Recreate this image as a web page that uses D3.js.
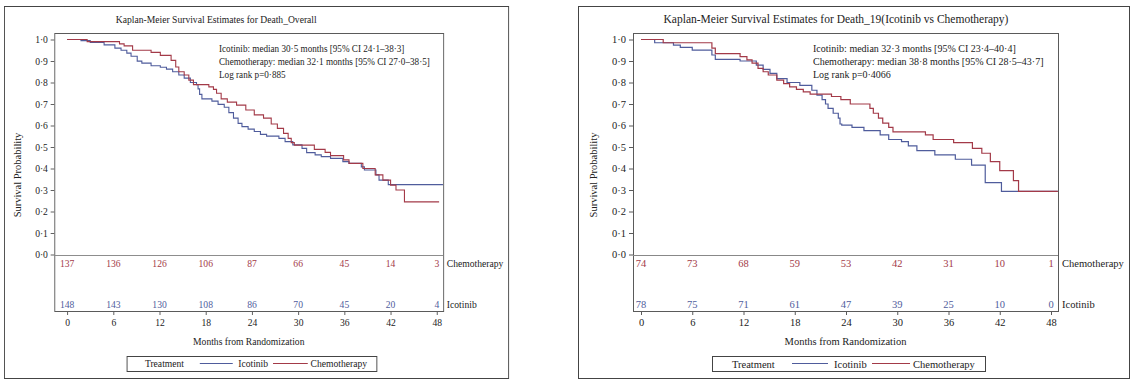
<!DOCTYPE html>
<html>
<head>
<meta charset="utf-8">
<script src="https://cdn.jsdelivr.net/npm/d3@7"></script>
<style>
  html, body { margin: 0; padding: 0; background: #fff; }
  svg { display: block; }
  text { font-family: "Liberation Serif", "Times New Roman", serif; fill: #222; }
</style>
</head>
<body>
<svg id="chart" width="1133" height="389"></svg>
<script>
// ---------------- DATA ----------------
const timeTicks = [0, 6, 12, 18, 24, 30, 36, 42, 48];
const survTicks = [0, 0.1, 0.2, 0.3, 0.4, 0.5, 0.6, 0.7, 0.8, 0.9, 1.0];
const groups = ["Icotinib", "Chemotherapy"];

// Panel 1: Death_Overall
const overallTitle = "Kaplan-Meier Survival Estimates for Death_Overall";
const overallNotes = [
  "Icotinib: median 30·5 months [95% CI 24·1–38·3]",
  "Chemotherapy: median 32·1 months [95% CI 27·0–38·5]",
  "Log rank p=0·885"
];
const overallIcoTime = [0, 1.8, 3.0, 4.8, 6.2, 7.0, 7.75, 8.3, 9.1, 9.7, 10.9, 12.1, 12.9, 13.7, 14.5, 15.2, 16.0, 16.8, 17.0, 17.2, 17.5, 18.8, 19.6, 20.4, 21.0, 21.6, 22.2, 22.7, 23.5, 24.3, 25.1, 25.9, 27.5, 28.3, 29.3, 30.5, 31.1, 32.2, 33.0, 34.2, 35.8, 36.6, 38.2, 38.6, 40.1, 40.5, 41.7, 48.8];
const overallIcoSurv = [1.0, 0.995, 0.987, 0.975, 0.96, 0.95, 0.937, 0.922, 0.899, 0.89, 0.878, 0.871, 0.862, 0.85, 0.835, 0.82, 0.80, 0.79, 0.77, 0.745, 0.724, 0.713, 0.698, 0.685, 0.66, 0.634, 0.61, 0.595, 0.583, 0.572, 0.559, 0.551, 0.54, 0.525, 0.51, 0.494, 0.474, 0.463, 0.455, 0.447, 0.432, 0.424, 0.408, 0.393, 0.37, 0.346, 0.325, 0.325];
const overallChemoTime = [0, 2.6, 6.8, 7.4, 8.5, 10.9, 12.1, 13.5, 14.1, 14.5, 15.2, 15.8, 16.4, 18.4, 19.0, 19.4, 20.0, 20.8, 22.0, 23.2, 24.3, 25.5, 26.5, 27.3, 28.1, 28.7, 29.1, 29.5, 32.1, 33.5, 34.2, 35.9, 36.6, 38.4, 40.0, 41.0, 42.0, 42.7, 43.8, 48.3];
const overallChemoSurv = [1.0, 0.99, 0.98, 0.97, 0.95, 0.94, 0.926, 0.903, 0.872, 0.85, 0.835, 0.811, 0.79, 0.78, 0.768, 0.75, 0.724, 0.709, 0.695, 0.672, 0.649, 0.634, 0.607, 0.587, 0.563, 0.54, 0.52, 0.509, 0.489, 0.475, 0.46, 0.44, 0.424, 0.40, 0.37, 0.346, 0.323, 0.30, 0.245, 0.245];
const overallRiskChemo = [137, 136, 126, 106, 87, 66, 45, 14, 3];
const overallRiskIco = [148, 143, 130, 108, 86, 70, 45, 20, 4];

// Panel 2: Death_19
const del19Title = "Kaplan-Meier Survival Estimates for Death_19(Icotinib vs Chemotherapy)";
const del19Notes = [
  "Icotinib: median 32·3 months [95% CI 23·4–40·4]",
  "Chemotherapy: median 38·8 months [95% CI 28·5–43·7]",
  "Log rank p=0·4066"
];
const del19IcoTime = [0, 1.6, 3.8, 4.6, 6.0, 8.3, 8.7, 11.6, 13.5, 14.3, 15.1, 15.9, 17.1, 18.6, 20.0, 20.6, 21.2, 21.6, 21.9, 22.5, 23.1, 23.3, 23.5, 24.7, 26.1, 28.0, 29.0, 30.5, 31.3, 32.3, 34.4, 36.8, 38.7, 40.3, 42.2, 48.8];
const del19IcoSurv = [1.0, 0.985, 0.974, 0.963, 0.951, 0.928, 0.908, 0.90, 0.881, 0.861, 0.842, 0.818, 0.80, 0.787, 0.764, 0.741, 0.72, 0.70, 0.68, 0.657, 0.634, 0.607, 0.602, 0.591, 0.576, 0.556, 0.535, 0.525, 0.505, 0.483, 0.463, 0.443, 0.416, 0.334, 0.294, 0.294];
const del19ChemoTime = [0, 2.6, 8.3, 8.7, 11.6, 12.4, 13.0, 13.7, 14.3, 14.9, 15.9, 16.7, 17.4, 18.2, 19.0, 19.8, 22.3, 23.4, 24.5, 26.8, 27.2, 27.8, 28.3, 29.0, 29.5, 33.3, 34.2, 36.6, 38.8, 39.9, 40.9, 42.0, 43.6, 44.2, 48.8];
const del19ChemoSurv = [1.0, 0.985, 0.96, 0.934, 0.92, 0.905, 0.89, 0.866, 0.85, 0.835, 0.811, 0.795, 0.78, 0.768, 0.756, 0.746, 0.735, 0.72, 0.70, 0.68, 0.657, 0.634, 0.611, 0.591, 0.57, 0.556, 0.535, 0.52, 0.494, 0.471, 0.432, 0.39, 0.344, 0.294, 0.294];
const del19RiskChemo = [74, 73, 68, 59, 53, 42, 31, 10, 1];
const del19RiskIco = [78, 75, 71, 61, 47, 39, 25, 10, 0];

// ---------------- STYLE / LAYOUT ----------------
const COL_ICO = "#4f5c9c";
const COL_CHEMO = "#a33a48";
const COL_FRAME = "#5a5a5a";
const FONT = 10.5;

// panel-local layout (each panel is one exported figure; the left one is narrower)
const L = { bw: 551, fl: 55, fr: 480, x48: 473, top: 33, bottom: 311 };

const panels = [
  { tx: 4, sx: 0.915, x0: 69, titleX: 232, titleSize: 10.5,
    title: overallTitle, notes: overallNotes,
    ico: [overallIcoTime, overallIcoSurv], chemo: [overallChemoTime, overallChemoSurv],
    riskChemo: overallRiskChemo, riskIco: overallRiskIco },
  { tx: 578, sx: 1, x0: 63, titleX: 258, titleSize: 11.5,
    title: del19Title, notes: del19Notes,
    ico: [del19IcoTime, del19IcoSurv], chemo: [del19ChemoTime, del19ChemoSurv],
    riskChemo: del19RiskChemo, riskIco: del19RiskIco }
];

const svg = d3.select("#chart");
svg.append("rect").attr("width", 1133).attr("height", 389).attr("fill", "#fff");

const fmtTick = d => d3.format(".1f")(d).replace(".", "·");

panels.forEach(p => {
  const g = svg.append("g").attr("transform", `translate(${p.tx},0) scale(${p.sx},1)`);
  const x = d3.scaleLinear().domain([0, 48]).range([p.x0, L.x48]);
  const y = d3.scaleLinear().domain([0, 1]).range([254.5, 39.5]);
  const cx = (L.fl + L.fr) / 2;

  // outer panel border
  g.append("rect").attr("x", 0.5).attr("y", 6.5).attr("width", L.bw).attr("height", 372)
    .attr("fill", "none").attr("stroke", "#444").attr("stroke-width", 1);

  // title
  g.append("text").attr("x", p.titleX).attr("y", 23).attr("text-anchor", "middle")
    .attr("font-size", p.titleSize).text(p.title);

  // y axis
  const ya = g.append("g").attr("transform", `translate(${L.fl},0)`)
    .call(d3.axisLeft(y).tickValues(survTicks).tickFormat(fmtTick).tickSize(4).tickPadding(3));
  ya.select(".domain").remove();
  ya.selectAll("line").attr("stroke", COL_FRAME);
  ya.selectAll("text").attr("font-size", FONT).attr("font-family", "Liberation Serif").attr("fill", "#222");

  // x axis
  const xa = g.append("g").attr("transform", `translate(0,${L.bottom})`)
    .call(d3.axisBottom(x).tickValues(timeTicks).tickSize(4).tickPadding(4));
  xa.select(".domain").remove();
  xa.selectAll("line").attr("stroke", COL_FRAME);
  xa.selectAll("text").attr("font-size", FONT).attr("font-family", "Liberation Serif").attr("fill", "#222");

  // frame
  g.append("rect").attr("x", L.fl + 0.5).attr("y", L.top + 0.5)
    .attr("width", L.fr - L.fl).attr("height", L.bottom - L.top)
    .attr("fill", "none").attr("stroke", COL_FRAME).attr("stroke-width", 1);
  // zero line
  g.append("line").attr("x1", L.fl).attr("x2", L.fr)
    .attr("y1", Math.round(y(0)) + 0.5).attr("y2", Math.round(y(0)) + 0.5)
    .attr("stroke", "#888").attr("stroke-width", 1);

  // axis titles
  g.append("text").attr("transform", `translate(${L.fl - 36},175) rotate(-90)`)
    .attr("text-anchor", "middle").attr("font-size", FONT).text("Survival Probability");
  g.append("text").attr("x", cx).attr("y", 345).attr("text-anchor", "middle")
    .attr("font-size", FONT).text("Months from Randomization");

  // annotations
  p.notes.forEach((t, i) => {
    g.append("text").attr("x", 235).attr("y", 52 + i * 13)
      .attr("font-size", 10).text(t);
  });

  // curves
  const line = d3.line().curve(d3.curveStepAfter)
    .x(d => x(d[0])).y(d => y(d[1]));
  const series = [
    { data: d3.zip(p.ico[0], p.ico[1]), color: COL_ICO },
    { data: d3.zip(p.chemo[0], p.chemo[1]), color: COL_CHEMO }
  ];
  series.forEach(s => {
    g.append("path").attr("d", line(s.data)).attr("fill", "none")
      .attr("stroke", s.color).attr("stroke-width", 1.2);
  });

  // at-risk numbers
  g.selectAll(null).data(p.riskChemo).enter().append("text")
    .attr("x", (d, i) => x(timeTicks[i])).attr("y", 267)
    .attr("text-anchor", "middle").attr("font-size", FONT)
    .style("fill", COL_CHEMO).text(d => d);
  g.selectAll(null).data(p.riskIco).enter().append("text")
    .attr("x", (d, i) => x(timeTicks[i])).attr("y", 308)
    .attr("text-anchor", "middle").attr("font-size", FONT)
    .style("fill", COL_ICO).text(d => d);
  g.append("text").attr("x", L.fr + 4).attr("y", 267).attr("font-size", FONT).text(groups[1]);
  g.append("text").attr("x", L.fr + 4).attr("y", 308).attr("font-size", FONT).text(groups[0]);

  // legend
  const lw = 273, lx = 134, ly = 356;
  const lg = g.append("g").attr("transform", `translate(${lx},${ly})`);
  lg.append("rect").attr("x", 0.5).attr("y", 0.5).attr("width", lw).attr("height", 15)
    .attr("fill", "none").attr("stroke", "#444");
  lg.append("text").attr("x", 20).attr("y", 11.5).attr("font-size", FONT).text("Treatment");
  lg.append("line").attr("x1", 80).attr("x2", 116).attr("y1", 7.5).attr("y2", 7.5)
    .attr("stroke", COL_ICO).attr("stroke-width", 1.2);
  lg.append("text").attr("x", 122).attr("y", 11.5).attr("font-size", FONT).text(groups[0]);
  lg.append("line").attr("x1", 160).attr("x2", 198).attr("y1", 7.5).attr("y2", 7.5)
    .attr("stroke", COL_CHEMO).attr("stroke-width", 1.2);
  lg.append("text").attr("x", 201).attr("y", 11.5).attr("font-size", FONT).text(groups[1]);
});
</script>
</body>
</html>
